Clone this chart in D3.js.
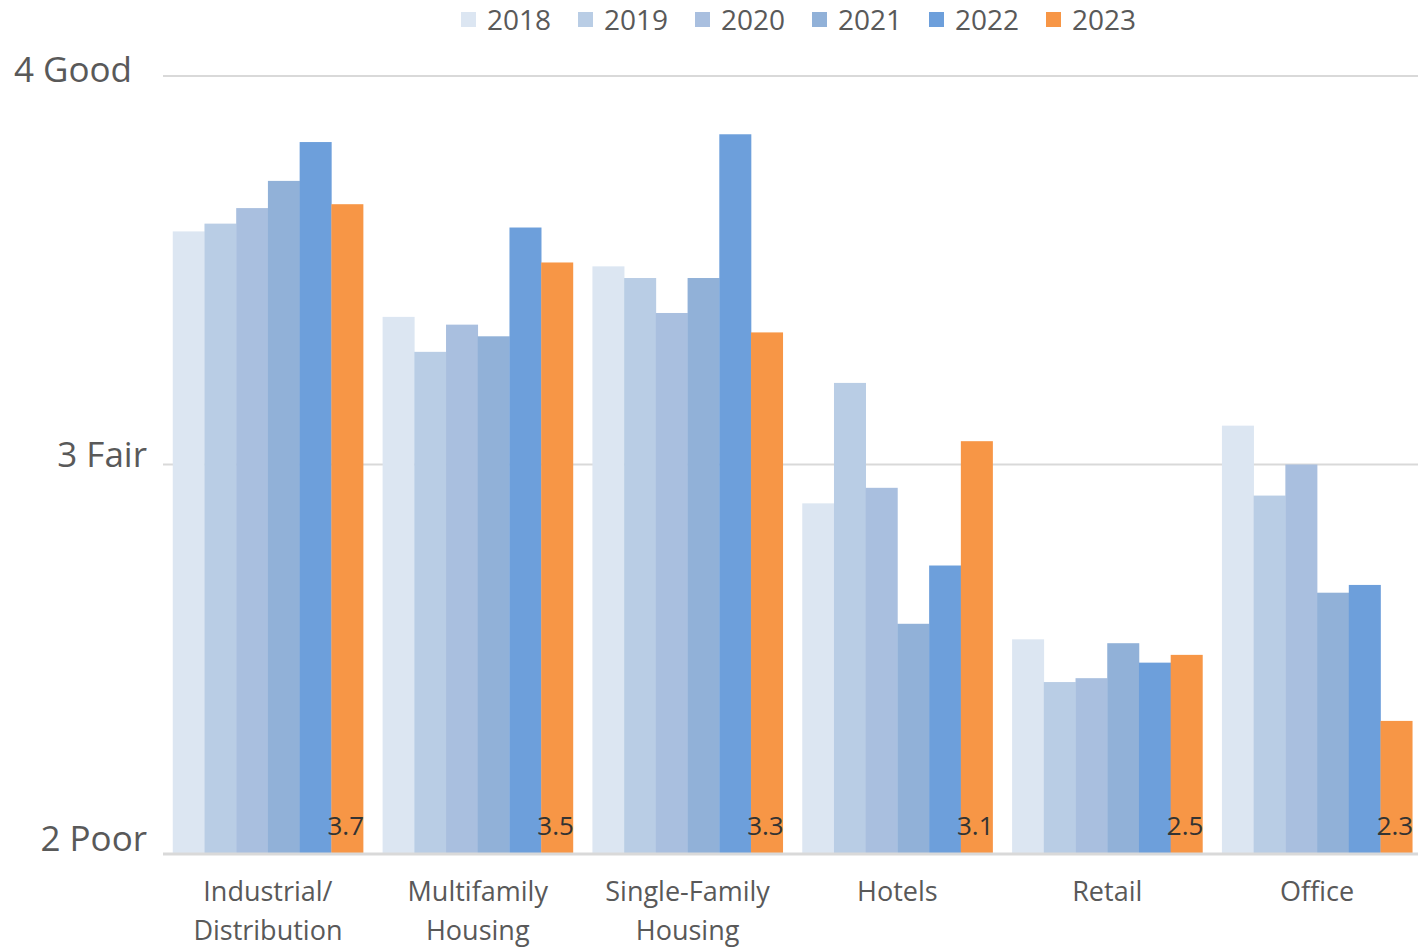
<!DOCTYPE html>
<html>
<head>
<meta charset="utf-8">
<script src="https://cdn.jsdelivr.net/npm/d3@7"></script>
<style>
  html, body { margin: 0; padding: 0; background: #ffffff; }
  svg { display: block; font-family: "Open Sans", "Noto Sans", sans-serif; }
</style>
</head>
<body>
<svg id="chart" width="1418" height="949"></svg>
<script>
// Property condition ratings by sector, 2018–2023 (scale: 2 Poor – 4 Good)
const categories = [
  ["Industrial/", "Distribution"],
  ["Multifamily", "Housing"],
  ["Single-Family", "Housing"],
  ["Hotels"],
  ["Retail"],
  ["Office"]
];
const years = ["2018", "2019", "2020", "2021", "2022", "2023"];
const values2018 = [3.60, 3.38, 3.51, 2.90, 2.55, 3.10];
const values2019 = [3.62, 3.29, 3.48, 3.21, 2.44, 2.92];
const values2020 = [3.66, 3.36, 3.39, 2.94, 2.45, 3.00];
const values2021 = [3.73, 3.33, 3.48, 2.59, 2.54, 2.67];
const values2022 = [3.83, 3.61, 3.85, 2.74, 2.49, 2.69];
const values2023 = [3.67, 3.52, 3.34, 3.06, 2.51, 2.34];
const yTicks = [2, 3, 4];
const yTickLabels = ["2 Poor", "3 Fair", "4 Good"];
const colors = ["#dce6f2", "#b9cde5", "#a9bfdf", "#91b1d8", "#6d9fdb", "#f79646"];

const series = [values2018, values2019, values2020, values2021, values2022, values2023];
const catKeys = categories.map(c => c.join(" "));
const rows = catKeys.map((key, i) => ({
  key,
  lines: categories[i],
  bars: years.map((y, j) => ({ year: y, value: series[j][i] }))
}));

const svg = d3.select("#chart");
const plotLeft = 163, plotRight = 1422, gridRight = 1418;
const yTop = 76, yBottom = 853;

const x0 = d3.scaleBand().domain(catKeys).range([plotLeft, plotRight])
  .paddingInner(0.093).paddingOuter(0.0465);
const x1 = d3.scaleBand().domain(years).range([0, x0.bandwidth()]).padding(0);
const y = d3.scaleLinear().domain([2, 4]).range([yBottom, yTop]);
const color = d3.scaleOrdinal().domain(years).range(colors);

// horizontal gridlines
svg.append("g")
  .selectAll("line")
  .data(yTicks.filter(t => t !== 2))
  .join("line")
  .attr("x1", plotLeft).attr("x2", gridRight)
  .attr("y1", d => y(d)).attr("y2", d => y(d))
  .attr("stroke", "#d9d9d9").attr("stroke-width", 2);

// bars
const groups = svg.append("g")
  .selectAll("g")
  .data(rows)
  .join("g")
  .attr("transform", d => `translate(${x0(d.key)},0)`);

groups.selectAll("rect")
  .data(d => d.bars)
  .join("rect")
  .attr("x", d => x1(d.year))
  .attr("width", x1.bandwidth() + 0.3)
  .attr("y", d => y(d.value))
  .attr("height", d => y(2) - y(d.value))
  .attr("fill", d => color(d.year));

// 2023 value labels, anchored to the right edge of the 2023 bar
groups.append("text")
  .attr("x", x1("2023") + x1.bandwidth() + 1)
  .attr("y", 835)
  .attr("text-anchor", "end")
  .attr("font-size", 26)
  .attr("fill", "#333333")
  .text(d => d3.format(".1f")(d.bars[5].value));

// baseline
svg.append("line")
  .attr("x1", plotLeft).attr("x2", gridRight)
  .attr("y1", y(2) + 1).attr("y2", y(2) + 1)
  .attr("stroke", "#d9d9d9").attr("stroke-width", 3);

// y axis labels
const yAxis = d3.axisLeft(y).tickValues(yTicks)
  .tickFormat((d, i) => yTickLabels[i]).tickSize(0).tickPadding(0);
const yg = svg.append("g").attr("transform", "translate(147,0)").call(yAxis);
yg.select(".domain").remove();
yg.selectAll("text")
  .attr("font-family", "'Open Sans', 'Noto Sans', sans-serif")
  .attr("font-size", 35)
  .attr("fill", "#595959")
  .attr("dy", d => d === 4 ? "0.02em" : "0.06em")
  .attr("dx", d => d === 4 ? -15 : 0)
  .attr("transform", d => d === 4 ? "translate(0,5)" : d === 2 ? "translate(0,-5)" : "translate(0,0)");

// category labels
const xl = svg.append("g");
rows.forEach(r => {
  const cx = x0(r.key) + x0.bandwidth() / 2;
  const t = xl.append("text")
    .attr("text-anchor", "middle")
    .attr("font-size", 27)
    .attr("fill", "#595959");
  r.lines.forEach((ln, i) => {
    t.append("tspan").attr("x", cx).attr("y", 901 + i * 39).text(ln);
  });
});

// legend
const legend = svg.append("g").attr("transform", "translate(461,0)");
const li = legend.selectAll("g").data(years).join("g")
  .attr("transform", (d, i) => `translate(${i * 117},0)`);
li.append("rect").attr("x", 0).attr("y", 12).attr("width", 15).attr("height", 15)
  .attr("fill", d => color(d));
li.append("text").attr("x", 26).attr("y", 30)
  .attr("font-size", 28).attr("fill", "#595959").text(d => d);
</script>
</body>
</html>
